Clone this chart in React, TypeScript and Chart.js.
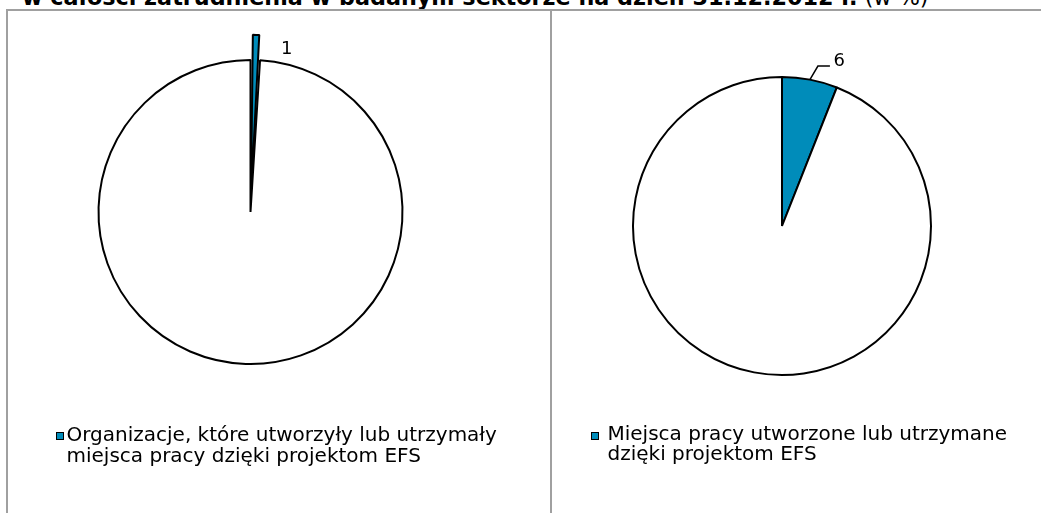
import React, { useEffect, useRef } from "react";
import { Chart, registerables } from "chart.js";

Chart.register(...registerables);

// ---- data ----
const leftCategories = [
  "Organizacje, które utworzyły lub utrzymały miejsca pracy dzięki projektom EFS",
  "Pozostałe",
];
const leftValues = [1, 99];
const rightCategories = [
  "Miejsca pracy utworzone lub utrzymane dzięki projektom EFS",
  "Pozostałe",
];
const rightValues = [6, 94];
const leftLegendLines = ["Organizacje, które utworzyły lub utrzymały", "miejsca pracy dzięki projektom EFS"];
const rightLegendLines = ["Miejsca pracy utworzone lub utrzymane", "dzięki projektom EFS"];
const titleBold = "w całości zatrudnienia w badanym sektorze na dzień 31.12.2012 r.";
const titleNormal = " (w %)";

const BLUE = "#008CBA";
const GRAY = "#a0a0a0";
const FONT = "'DejaVu Sans', Verdana, sans-serif";

const sliceLabelPlugin = {
  id: "sliceLabel",
  afterDatasetsDraw(chart: any, _args: any, opts: any) {
    const meta = chart.getDatasetMeta(0);
    const arc = meta.data[0];
    if (!arc) return;
    const p = arc.getProps(["x", "y", "startAngle", "endAngle", "outerRadius", "circumference"], true);
    // Chart.js arc offset: translate by offset/4, radius grows by offset/4 * fix
    const off = ((arc.options && arc.options.offset) || 0) / 4;
    const fix = 1 - Math.sin(Math.min(Math.PI, p.endAngle - p.startAngle));
    const mid = (p.startAngle + p.endAngle) / 2;
    const r = p.outerRadius + off + off * fix;
    const px = p.x + Math.cos(mid) * r;
    const py = p.y + Math.sin(mid) * r;
    const ctx = chart.ctx;
    ctx.save();
    if (opts.leader) {
      ctx.strokeStyle = "#000";
      ctx.lineWidth = 1.5;
      ctx.beginPath();
      ctx.moveTo(px, py);
      for (const [lx, ly] of opts.leader) ctx.lineTo(px + lx, py + ly);
      ctx.stroke();
    }
    ctx.fillStyle = "#000";
    ctx.font = `18px ${FONT}`;
    ctx.textAlign = "left";
    ctx.textBaseline = "alphabetic";
    const v = chart.data.datasets[0].data[0];
    ctx.fillText(String(v), px + opts.dx, py + opts.dy);
    ctx.restore();
  },
};

function PieCanvas(props: {
  labels: string[];
  values: number[];
  radius: number;
  offset: number[];
  label: any;
  style: React.CSSProperties;
  w: number;
  h: number;
}) {
  const ref = useRef<HTMLCanvasElement | null>(null);
  useEffect(() => {
    if (!ref.current) return;
    const chart = new Chart(ref.current, {
      type: "pie",
      data: {
        labels: props.labels,
        datasets: [
          {
            data: props.values,
            backgroundColor: [BLUE, "#FFFFFF"],
            borderColor: "#000000",
            borderWidth: 2,
            radius: props.radius,
            offset: props.offset,
          } as any,
        ],
      },
      options: {
        responsive: false,
        animation: false,
        devicePixelRatio: 1,
        layout: { padding: 0 },
        plugins: {
          legend: { display: false },
          tooltip: { enabled: false },
          sliceLabel: props.label,
        } as any,
      },
      plugins: [sliceLabelPlugin as any],
    });
    return () => chart.destroy();
  }, []);
  return (
    <canvas
      ref={ref}
      width={props.w}
      height={props.h}
      style={{ position: "absolute", width: props.w, height: props.h, ...props.style }}
    />
  );
}

function Legend(props: {
  lines: string[];
  boxLeft: number;
  boxTop: number;
  textLeft: number;
  baseline: number;
  lineH: number;
}) {
  const fs = 20;
  const inLine = (props.lineH - 1.164 * fs) / 2 + 0.928 * fs;
  return (
    <>
      <div
        style={{
          position: "absolute",
          left: props.boxLeft,
          top: props.boxTop,
          width: 6,
          height: 6,
          background: BLUE,
          border: "1px solid #000",
        }}
      />
      <div
        style={{
          position: "absolute",
          left: props.textLeft,
          top: props.baseline - inLine,
          fontFamily: FONT,
          fontSize: fs,
          lineHeight: `${props.lineH}px`,
          whiteSpace: "nowrap",
          color: "#000",
        }}
      >
        {props.lines.map((l, i) => (
          <div key={i}>{l}</div>
        ))}
      </div>
    </>
  );
}

export default function App() {
  const tfs = 22.3;
  return (
    <div
      style={{
        position: "absolute",
        left: 0,
        top: 0,
        width: 1041,
        height: 513,
        overflow: "hidden",
        background: "#fff",
      }}
    >
      <div
        style={{
          position: "absolute",
          left: 22,
          top: 4.5 - 0.846 * tfs,
          fontFamily: FONT,
          fontSize: tfs,
          lineHeight: `${tfs}px`,
          whiteSpace: "nowrap",
          color: "#000",
        }}
      >
        <span style={{ fontWeight: "bold" }}>{titleBold}</span>
        <span>{titleNormal}</span>
      </div>
      <div style={{ position: "absolute", left: 6, top: 9, width: 1035, height: 2, background: GRAY }} />
      <div style={{ position: "absolute", left: 6, top: 9, width: 2, height: 504, background: GRAY }} />
      <div style={{ position: "absolute", left: 550, top: 9, width: 2, height: 504, background: GRAY }} />

      <PieCanvas
        labels={leftCategories}
        values={leftValues}
        radius={152}
        offset={[52, 0]}
        label={{ dx: 25, dy: 19 }}
        style={{ left: 51, top: 12 }}
        w={399}
        h={400}
      />
      <PieCanvas
        labels={rightCategories}
        values={rightValues}
        radius={149}
        offset={[0, 0]}
        label={{ dx: 23.5, dy: -13.6, leader: [[8, -13.6], [20, -13.6]] }}
        style={{ left: 582, top: 26 }}
        w={400}
        h={400}
      />

      <Legend lines={leftLegendLines} boxLeft={56} boxTop={432} textLeft={66.5} baseline={441} lineH={21} />
      <Legend lines={rightLegendLines} boxLeft={590.5} boxTop={431.5} textLeft={607.5} baseline={440} lineH={20.7} />
    </div>
  );
}
